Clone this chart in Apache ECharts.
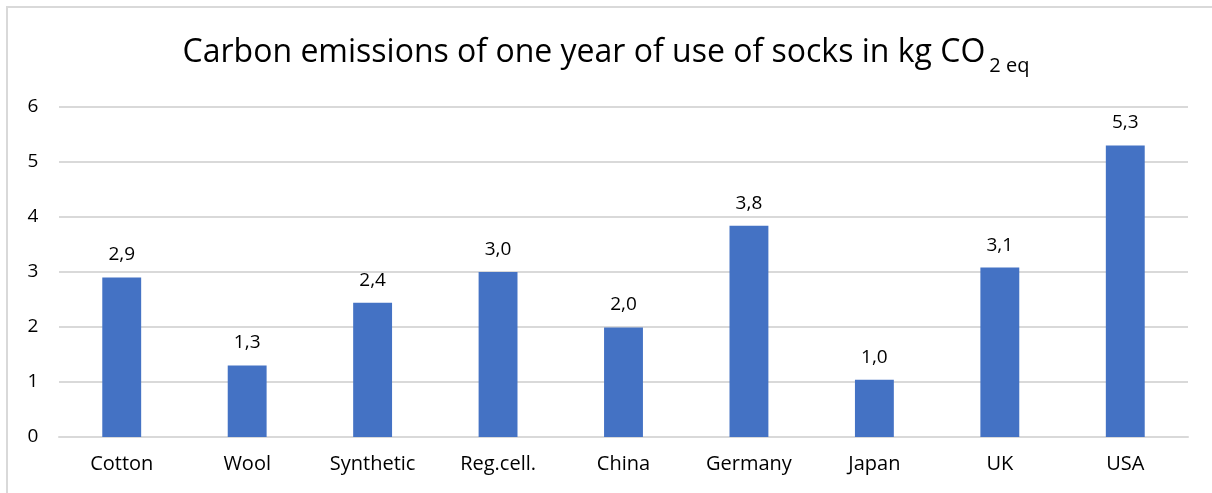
<!DOCTYPE html>
<html>
<head>
<meta charset="utf-8">
<title>Carbon emissions of socks</title>
<script src="https://cdn.jsdelivr.net/npm/echarts@6/dist/echarts.min.js"></script>
<style>
  html, body { margin: 0; padding: 0; background: #fff; }
  #frame { position: absolute; left: 6px; top: 6px; width: 1220px; height: 500px;
           border-top: 2px solid #d9d9d9; border-left: 2px solid #d9d9d9; }
  #chart { position: absolute; left: 0; top: 0; width: 1212px; height: 493px; }
</style>
</head>
<body>
<div id="frame"></div>
<div id="chart"></div>
<script>
// values
const categories = ['Cotton', 'Wool', 'Synthetic', 'Reg.cell.', 'China', 'Germany', 'Japan', 'UK', 'USA']
const emissions = [2.9, 1.3, 2.44, 3.0, 1.99, 3.84, 1.04, 3.08, 5.3]
const yTicks = [0, 1, 2, 3, 4, 5, 6]

const font = 'Open Sans, Noto Sans, sans-serif'

const chart = echarts.init(document.getElementById('chart'), null, { renderer: 'canvas' })

chart.setOption({
  animation: false,
  textStyle: { fontFamily: font },
  title: {
    left: 'center',
    top: 32,
    text: '{t|Carbon emissions of one year of use of socks in kg CO}{s|2 eq}',
    textStyle: {
      rich: {
        t: { fontFamily: font, fontSize: 32, fontWeight: 'normal', color: '#000', verticalAlign: 'bottom' },
        s: { fontFamily: font, fontSize: 20, fontWeight: 'normal', color: '#000', padding: [0, 0, -7, 4], verticalAlign: 'bottom' }
      }
    }
  },
  grid: {
    left: 59,
    right: 24,
    top: 107,
    bottom: 56,
    containLabel: false
  },
  xAxis: {
    type: 'category',
    data: categories,
    axisLine: { lineStyle: { color: '#d9d9d9', width: 2 } },
    axisTick: { show: false },
    axisLabel: { color: '#000', fontSize: 20, margin: 17, fontFamily: font }
  },
  yAxis: {
    type: 'value',
    min: yTicks[0],
    max: yTicks[yTicks.length - 1],
    interval: 1,
    axisLine: { show: false },
    axisTick: { show: false },
    splitLine: { lineStyle: { color: '#d9d9d9', width: 2 } },
    axisLabel: { color: '#000', fontSize: 19, margin: 26, align: 'center', fontFamily: font }
  },
  series: [{
    type: 'bar',
    data: emissions,
    barWidth: '31%',
    itemStyle: { color: '#4472c4' },
    label: {
      show: true,
      position: 'top',
      distance: 13,
      color: '#000',
      fontSize: 19,
      fontFamily: font,
      formatter: p => p.value.toFixed(1).replace('.', ',')
    }
  }]
})
</script>
</body>
</html>
